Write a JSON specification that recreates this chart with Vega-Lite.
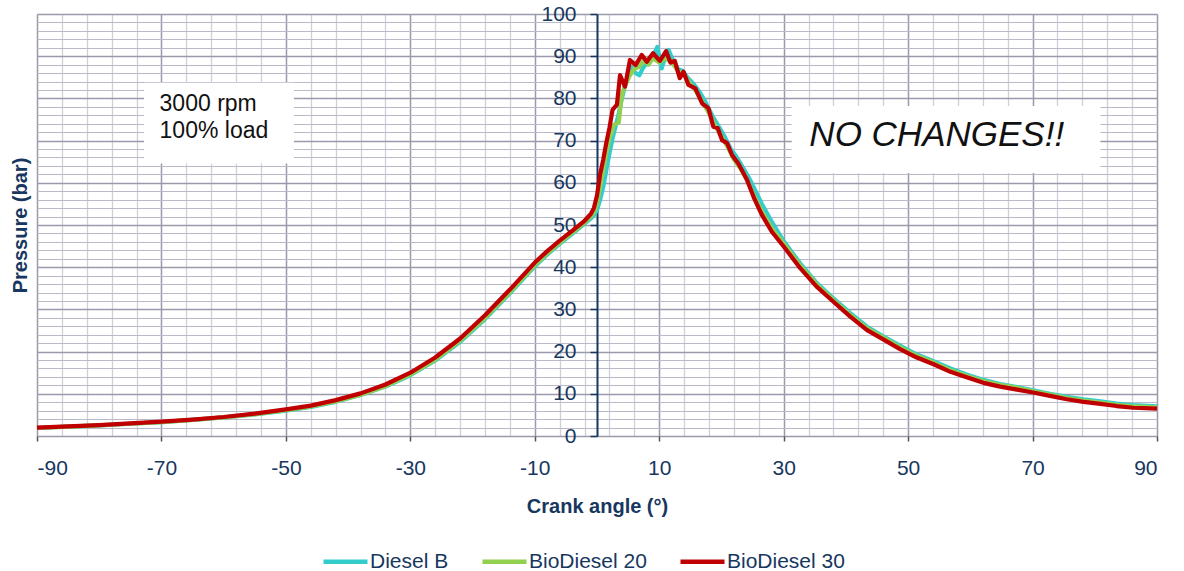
{
  "$schema": "https://vega.github.io/schema/vega-lite/v6.json",
  "width": 1120,
  "height": 422,
  "autosize": {"type": "none"},
  "padding": {"left": 37, "top": 14, "right": 27, "bottom": 135},
  "background": "white",
  "config": {
    "view": {"stroke": null},
    "font": "Liberation Sans",
    "axis": {"labelFont": "Liberation Sans", "titleFont": "Liberation Sans"}
  },
  "datasets": {
    "curves": [
      {"fuel":"Diesel B","angle":-90,"pressure":1.9},{"fuel":"Diesel B","angle":-85,"pressure":2.2},{"fuel":"Diesel B","angle":-80,"pressure":2.5},{"fuel":"Diesel B","angle":-75,"pressure":2.9},{"fuel":"Diesel B","angle":-70,"pressure":3.3},{"fuel":"Diesel B","angle":-65,"pressure":3.8},{"fuel":"Diesel B","angle":-60,"pressure":4.4},{"fuel":"Diesel B","angle":-55,"pressure":5.1},{"fuel":"Diesel B","angle":-50,"pressure":6.0},{"fuel":"Diesel B","angle":-46,"pressure":6.9},{"fuel":"Diesel B","angle":-42,"pressure":8.1},{"fuel":"Diesel B","angle":-38,"pressure":9.7},{"fuel":"Diesel B","angle":-34,"pressure":11.7},{"fuel":"Diesel B","angle":-30,"pressure":14.4},{"fuel":"Diesel B","angle":-26,"pressure":17.9},{"fuel":"Diesel B","angle":-22,"pressure":22.3},{"fuel":"Diesel B","angle":-18,"pressure":27.7},{"fuel":"Diesel B","angle":-14,"pressure":33.8},{"fuel":"Diesel B","angle":-10,"pressure":40.2},{"fuel":"Diesel B","angle":-8,"pressure":43.0},{"fuel":"Diesel B","angle":-6,"pressure":45.5},{"fuel":"Diesel B","angle":-4,"pressure":47.9},{"fuel":"Diesel B","angle":-3,"pressure":49.1},{"fuel":"Diesel B","angle":-2,"pressure":50.3},{"fuel":"Diesel B","angle":-1,"pressure":51.5},{"fuel":"Diesel B","angle":-0.5,"pressure":52.3},{"fuel":"Diesel B","angle":0,"pressure":53.5},{"fuel":"Diesel B","angle":0.5,"pressure":56.0},{"fuel":"Diesel B","angle":1,"pressure":59.0},{"fuel":"Diesel B","angle":1.5,"pressure":63.0},{"fuel":"Diesel B","angle":2,"pressure":67.0},{"fuel":"Diesel B","angle":2.5,"pressure":70.5},{"fuel":"Diesel B","angle":3,"pressure":73.5},{"fuel":"Diesel B","angle":3.5,"pressure":76.5},{"fuel":"Diesel B","angle":4,"pressure":80.0},{"fuel":"Diesel B","angle":4.5,"pressure":83.0},{"fuel":"Diesel B","angle":5,"pressure":85.0},{"fuel":"Diesel B","angle":5.5,"pressure":87.5},{"fuel":"Diesel B","angle":6.2,"pressure":86.0},{"fuel":"Diesel B","angle":6.8,"pressure":85.5},{"fuel":"Diesel B","angle":7.5,"pressure":87.5},{"fuel":"Diesel B","angle":8.3,"pressure":88.5},{"fuel":"Diesel B","angle":9,"pressure":90.0},{"fuel":"Diesel B","angle":9.7,"pressure":92.2},{"fuel":"Diesel B","angle":10.4,"pressure":87.1},{"fuel":"Diesel B","angle":11,"pressure":90.0},{"fuel":"Diesel B","angle":11.5,"pressure":91.5},{"fuel":"Diesel B","angle":12.2,"pressure":89.0},{"fuel":"Diesel B","angle":13,"pressure":87.0},{"fuel":"Diesel B","angle":13.8,"pressure":86.5},{"fuel":"Diesel B","angle":14.5,"pressure":85.0},{"fuel":"Diesel B","angle":15.5,"pressure":83.5},{"fuel":"Diesel B","angle":16.5,"pressure":81.5},{"fuel":"Diesel B","angle":17.5,"pressure":79.0},{"fuel":"Diesel B","angle":18.5,"pressure":76.0},{"fuel":"Diesel B","angle":19.5,"pressure":73.5},{"fuel":"Diesel B","angle":20.5,"pressure":71.0},{"fuel":"Diesel B","angle":21.5,"pressure":68.0},{"fuel":"Diesel B","angle":22.5,"pressure":66.0},{"fuel":"Diesel B","angle":23.5,"pressure":63.5},{"fuel":"Diesel B","angle":24.5,"pressure":61.0},{"fuel":"Diesel B","angle":25.5,"pressure":58.0},{"fuel":"Diesel B","angle":26.5,"pressure":55.0},{"fuel":"Diesel B","angle":28,"pressure":51.0},{"fuel":"Diesel B","angle":30,"pressure":46.2},{"fuel":"Diesel B","angle":32.7,"pressure":40.8},{"fuel":"Diesel B","angle":35.3,"pressure":36.3},{"fuel":"Diesel B","angle":38,"pressure":32.6},{"fuel":"Diesel B","angle":40.7,"pressure":29.1},{"fuel":"Diesel B","angle":43.4,"pressure":25.9},{"fuel":"Diesel B","angle":46,"pressure":23.6},{"fuel":"Diesel B","angle":48.7,"pressure":21.4},{"fuel":"Diesel B","angle":51.4,"pressure":19.3},{"fuel":"Diesel B","angle":54.1,"pressure":17.7},{"fuel":"Diesel B","angle":56.8,"pressure":16.0},{"fuel":"Diesel B","angle":59.4,"pressure":14.6},{"fuel":"Diesel B","angle":62.1,"pressure":13.3},{"fuel":"Diesel B","angle":64.8,"pressure":12.3},{"fuel":"Diesel B","angle":67.5,"pressure":11.6},{"fuel":"Diesel B","angle":70.1,"pressure":10.8},{"fuel":"Diesel B","angle":72.8,"pressure":10.0},{"fuel":"Diesel B","angle":75.5,"pressure":9.3},{"fuel":"Diesel B","angle":78.2,"pressure":8.7},{"fuel":"Diesel B","angle":80.9,"pressure":8.2},{"fuel":"Diesel B","angle":83.5,"pressure":7.7},{"fuel":"Diesel B","angle":86.2,"pressure":7.3},{"fuel":"Diesel B","angle":90,"pressure":7.0},

      {"fuel":"BioDiesel 20","angle":-90,"pressure":1.9},{"fuel":"BioDiesel 20","angle":-85,"pressure":2.2},{"fuel":"BioDiesel 20","angle":-80,"pressure":2.5},{"fuel":"BioDiesel 20","angle":-75,"pressure":2.9},{"fuel":"BioDiesel 20","angle":-70,"pressure":3.3},{"fuel":"BioDiesel 20","angle":-65,"pressure":3.8},{"fuel":"BioDiesel 20","angle":-60,"pressure":4.4},{"fuel":"BioDiesel 20","angle":-55,"pressure":5.2},{"fuel":"BioDiesel 20","angle":-50,"pressure":6.1},{"fuel":"BioDiesel 20","angle":-46,"pressure":7.0},{"fuel":"BioDiesel 20","angle":-42,"pressure":8.2},{"fuel":"BioDiesel 20","angle":-38,"pressure":9.8},{"fuel":"BioDiesel 20","angle":-34,"pressure":11.8},{"fuel":"BioDiesel 20","angle":-30,"pressure":14.6},{"fuel":"BioDiesel 20","angle":-26,"pressure":18.1},{"fuel":"BioDiesel 20","angle":-22,"pressure":22.6},{"fuel":"BioDiesel 20","angle":-18,"pressure":28.0},{"fuel":"BioDiesel 20","angle":-14,"pressure":34.1},{"fuel":"BioDiesel 20","angle":-10,"pressure":40.5},{"fuel":"BioDiesel 20","angle":-8,"pressure":43.3},{"fuel":"BioDiesel 20","angle":-6,"pressure":45.8},{"fuel":"BioDiesel 20","angle":-4,"pressure":48.2},{"fuel":"BioDiesel 20","angle":-3,"pressure":49.4},{"fuel":"BioDiesel 20","angle":-2,"pressure":50.6},{"fuel":"BioDiesel 20","angle":-1,"pressure":52.0},{"fuel":"BioDiesel 20","angle":-0.5,"pressure":53.0},{"fuel":"BioDiesel 20","angle":0,"pressure":55.0},{"fuel":"BioDiesel 20","angle":0.5,"pressure":59.0},{"fuel":"BioDiesel 20","angle":1,"pressure":63.0},{"fuel":"BioDiesel 20","angle":1.5,"pressure":67.0},{"fuel":"BioDiesel 20","angle":2,"pressure":70.5},{"fuel":"BioDiesel 20","angle":2.7,"pressure":73.7},{"fuel":"BioDiesel 20","angle":3.5,"pressure":74.3},{"fuel":"BioDiesel 20","angle":4,"pressure":81.0},{"fuel":"BioDiesel 20","angle":4.5,"pressure":83.0},{"fuel":"BioDiesel 20","angle":5.3,"pressure":85.5},{"fuel":"BioDiesel 20","angle":6,"pressure":87.0},{"fuel":"BioDiesel 20","angle":6.8,"pressure":87.5},{"fuel":"BioDiesel 20","angle":7.5,"pressure":89.0},{"fuel":"BioDiesel 20","angle":8.3,"pressure":88.0},{"fuel":"BioDiesel 20","angle":9,"pressure":89.5},{"fuel":"BioDiesel 20","angle":10,"pressure":88.5},{"fuel":"BioDiesel 20","angle":10.8,"pressure":89.5},{"fuel":"BioDiesel 20","angle":11.5,"pressure":89.0},{"fuel":"BioDiesel 20","angle":12.3,"pressure":88.0},{"fuel":"BioDiesel 20","angle":13,"pressure":86.5},{"fuel":"BioDiesel 20","angle":14,"pressure":85.5},{"fuel":"BioDiesel 20","angle":15,"pressure":83.5},{"fuel":"BioDiesel 20","angle":16,"pressure":81.5},{"fuel":"BioDiesel 20","angle":17,"pressure":79.0},{"fuel":"BioDiesel 20","angle":18,"pressure":76.5},{"fuel":"BioDiesel 20","angle":19,"pressure":73.5},{"fuel":"BioDiesel 20","angle":20,"pressure":71.0},{"fuel":"BioDiesel 20","angle":21,"pressure":68.5},{"fuel":"BioDiesel 20","angle":22,"pressure":65.5},{"fuel":"BioDiesel 20","angle":23,"pressure":63.5},{"fuel":"BioDiesel 20","angle":24,"pressure":61.0},{"fuel":"BioDiesel 20","angle":25.2,"pressure":57.0},{"fuel":"BioDiesel 20","angle":26.5,"pressure":53.2},{"fuel":"BioDiesel 20","angle":28.1,"pressure":49.2},{"fuel":"BioDiesel 20","angle":30,"pressure":45.6},{"fuel":"BioDiesel 20","angle":32.7,"pressure":40.3},{"fuel":"BioDiesel 20","angle":35.3,"pressure":35.9},{"fuel":"BioDiesel 20","angle":38,"pressure":32.2},{"fuel":"BioDiesel 20","angle":40.7,"pressure":28.7},{"fuel":"BioDiesel 20","angle":43.4,"pressure":25.5},{"fuel":"BioDiesel 20","angle":46,"pressure":23.3},{"fuel":"BioDiesel 20","angle":48.7,"pressure":21.0},{"fuel":"BioDiesel 20","angle":51.4,"pressure":19.0},{"fuel":"BioDiesel 20","angle":54.1,"pressure":17.4},{"fuel":"BioDiesel 20","angle":56.8,"pressure":15.6},{"fuel":"BioDiesel 20","angle":59.4,"pressure":14.3},{"fuel":"BioDiesel 20","angle":62.1,"pressure":13.0},{"fuel":"BioDiesel 20","angle":64.8,"pressure":12.1},{"fuel":"BioDiesel 20","angle":67.5,"pressure":11.4},{"fuel":"BioDiesel 20","angle":70.1,"pressure":10.6},{"fuel":"BioDiesel 20","angle":72.8,"pressure":9.8},{"fuel":"BioDiesel 20","angle":75.5,"pressure":9.0},{"fuel":"BioDiesel 20","angle":78.2,"pressure":8.4},{"fuel":"BioDiesel 20","angle":80.9,"pressure":7.9},{"fuel":"BioDiesel 20","angle":83.5,"pressure":7.4},{"fuel":"BioDiesel 20","angle":86.2,"pressure":7.0},{"fuel":"BioDiesel 20","angle":90,"pressure":6.8},

      {"fuel":"BioDiesel 30","angle":-90,"pressure":2.0},{"fuel":"BioDiesel 30","angle":-85,"pressure":2.3},{"fuel":"BioDiesel 30","angle":-80,"pressure":2.6},{"fuel":"BioDiesel 30","angle":-75,"pressure":3.0},{"fuel":"BioDiesel 30","angle":-70,"pressure":3.4},{"fuel":"BioDiesel 30","angle":-65,"pressure":3.9},{"fuel":"BioDiesel 30","angle":-60,"pressure":4.5},{"fuel":"BioDiesel 30","angle":-55,"pressure":5.3},{"fuel":"BioDiesel 30","angle":-50,"pressure":6.3},{"fuel":"BioDiesel 30","angle":-46,"pressure":7.2},{"fuel":"BioDiesel 30","angle":-42,"pressure":8.5},{"fuel":"BioDiesel 30","angle":-38,"pressure":10.1},{"fuel":"BioDiesel 30","angle":-34,"pressure":12.2},{"fuel":"BioDiesel 30","angle":-30,"pressure":15.0},{"fuel":"BioDiesel 30","angle":-26,"pressure":18.6},{"fuel":"BioDiesel 30","angle":-22,"pressure":23.1},{"fuel":"BioDiesel 30","angle":-18,"pressure":28.6},{"fuel":"BioDiesel 30","angle":-14,"pressure":34.7},{"fuel":"BioDiesel 30","angle":-10,"pressure":41.1},{"fuel":"BioDiesel 30","angle":-8,"pressure":43.8},{"fuel":"BioDiesel 30","angle":-6,"pressure":46.3},{"fuel":"BioDiesel 30","angle":-4,"pressure":48.6},{"fuel":"BioDiesel 30","angle":-3,"pressure":49.8},{"fuel":"BioDiesel 30","angle":-2,"pressure":51.0},{"fuel":"BioDiesel 30","angle":-1,"pressure":52.6},{"fuel":"BioDiesel 30","angle":-0.5,"pressure":54.0},{"fuel":"BioDiesel 30","angle":0,"pressure":57.0},{"fuel":"BioDiesel 30","angle":0.5,"pressure":62.0},{"fuel":"BioDiesel 30","angle":1,"pressure":65.5},{"fuel":"BioDiesel 30","angle":1.5,"pressure":69.5},{"fuel":"BioDiesel 30","angle":2,"pressure":73.0},{"fuel":"BioDiesel 30","angle":2.5,"pressure":77.3},{"fuel":"BioDiesel 30","angle":3.2,"pressure":78.5},{"fuel":"BioDiesel 30","angle":3.7,"pressure":85.5},{"fuel":"BioDiesel 30","angle":4.5,"pressure":82.8},{"fuel":"BioDiesel 30","angle":5.3,"pressure":89.1},{"fuel":"BioDiesel 30","angle":6.2,"pressure":87.9},{"fuel":"BioDiesel 30","angle":7.2,"pressure":90.3},{"fuel":"BioDiesel 30","angle":8.0,"pressure":88.7},{"fuel":"BioDiesel 30","angle":9.0,"pressure":90.7},{"fuel":"BioDiesel 30","angle":10.1,"pressure":88.9},{"fuel":"BioDiesel 30","angle":11.1,"pressure":91.2},{"fuel":"BioDiesel 30","angle":11.8,"pressure":88.5},{"fuel":"BioDiesel 30","angle":12.5,"pressure":88.9},{"fuel":"BioDiesel 30","angle":13.3,"pressure":84.8},{"fuel":"BioDiesel 30","angle":13.9,"pressure":86.3},{"fuel":"BioDiesel 30","angle":14.7,"pressure":83.2},{"fuel":"BioDiesel 30","angle":15.8,"pressure":82.4},{"fuel":"BioDiesel 30","angle":16.9,"pressure":78.8},{"fuel":"BioDiesel 30","angle":17.9,"pressure":77.7},{"fuel":"BioDiesel 30","angle":18.7,"pressure":73.3},{"fuel":"BioDiesel 30","angle":19.4,"pressure":73.0},{"fuel":"BioDiesel 30","angle":20.1,"pressure":70.1},{"fuel":"BioDiesel 30","angle":20.9,"pressure":69.4},{"fuel":"BioDiesel 30","angle":21.7,"pressure":66.6},{"fuel":"BioDiesel 30","angle":22.7,"pressure":64.6},{"fuel":"BioDiesel 30","angle":24.1,"pressure":60.7},{"fuel":"BioDiesel 30","angle":25.2,"pressure":56.5},{"fuel":"BioDiesel 30","angle":26.5,"pressure":52.4},{"fuel":"BioDiesel 30","angle":28.1,"pressure":48.4},{"fuel":"BioDiesel 30","angle":30,"pressure":44.9},{"fuel":"BioDiesel 30","angle":32.7,"pressure":39.7},{"fuel":"BioDiesel 30","angle":35.3,"pressure":35.4},{"fuel":"BioDiesel 30","angle":38,"pressure":31.8},{"fuel":"BioDiesel 30","angle":40.7,"pressure":28.3},{"fuel":"BioDiesel 30","angle":43.4,"pressure":25.1},{"fuel":"BioDiesel 30","angle":46,"pressure":22.9},{"fuel":"BioDiesel 30","angle":48.7,"pressure":20.6},{"fuel":"BioDiesel 30","angle":51.4,"pressure":18.6},{"fuel":"BioDiesel 30","angle":54.1,"pressure":17.0},{"fuel":"BioDiesel 30","angle":56.8,"pressure":15.2},{"fuel":"BioDiesel 30","angle":59.4,"pressure":13.9},{"fuel":"BioDiesel 30","angle":62.1,"pressure":12.6},{"fuel":"BioDiesel 30","angle":64.8,"pressure":11.7},{"fuel":"BioDiesel 30","angle":67.5,"pressure":11.0},{"fuel":"BioDiesel 30","angle":70.1,"pressure":10.3},{"fuel":"BioDiesel 30","angle":72.8,"pressure":9.5},{"fuel":"BioDiesel 30","angle":75.5,"pressure":8.7},{"fuel":"BioDiesel 30","angle":78.2,"pressure":8.1},{"fuel":"BioDiesel 30","angle":80.9,"pressure":7.6},{"fuel":"BioDiesel 30","angle":83.5,"pressure":7.1},{"fuel":"BioDiesel 30","angle":86.2,"pressure":6.7},{"fuel":"BioDiesel 30","angle":90,"pressure":6.5}
    ],
    "boxes": [
      {"x1": -72.8, "x2": -48.7, "y1": 64.6, "y2": 83.7},
      {"x1": 31.3, "x2": 80.9, "y1": 62.3, "y2": 78.2}
    ],
    "smallNotes": [
      {"x": -70.3, "y": 77.0, "label": "3000 rpm"},
      {"x": -70.3, "y": 70.5, "label": "100% load"}
    ],
    "bigNotes": [
      {"x": 54.6, "y": 68.7, "label": "NO CHANGES!!"}
    ]
  },
  "layer": [
    {
      "data": {"name": "curves"},
      "mark": {"type": "point", "opacity": 0},
      "encoding": {
        "x": {"field": "angle", "type": "quantitative",
          "scale": {"domain": [-90, 90], "nice": false, "zero": false},
          "axis": {"orient": "top", "title": null, "labels": false, "ticks": false, "domain": false,
            "grid": true, "gridColor": "#D0D0DB", "gridWidth": 1.3,
            "values": [-90,-86,-82,-78,-74,-70,-66,-62,-58,-54,-50,-46,-42,-38,-34,-30,-26,-22,-18,-14,-10,-6,-2,2,6,10,14,18,22,26,30,34,38,42,46,50,54,58,62,66,70,74,78,82,86,90]}},
        "y": {"field": "pressure", "type": "quantitative",
          "scale": {"domain": [0, 100], "nice": false, "zero": true},
          "axis": {"orient": "right", "title": null, "labels": false, "ticks": false, "domain": false,
            "grid": true, "gridColor": "#B9B9C8", "gridWidth": 1.2,
            "values": [0,2,4,6,8,10,12,14,16,18,20,22,24,26,28,30,32,34,36,38,40,42,44,46,48,50,52,54,56,58,60,62,64,66,68,70,72,74,76,78,80,82,84,86,88,90,92,94,96,98,100]}}
      }
    },
    {
      "mark": {"type": "rule", "color": "#84849A", "strokeWidth": 2},
      "encoding": {"y": {"datum": 50, "type": "quantitative", "axis": null}}
    },
    {
      "mark": {"type": "rule", "color": "#1F3F6F", "strokeWidth": 2},
      "encoding": {"y": {"datum": 100, "type": "quantitative", "axis": null}}
    },
    {
      "mark": {"type": "rule", "color": "#1F3F6F", "strokeWidth": 2},
      "encoding": {"x": {"datum": -90, "type": "quantitative", "axis": null}}
    },
    {
      "mark": {"type": "rule", "color": "#7D8EAC", "strokeWidth": 2},
      "encoding": {"x": {"datum": 90, "type": "quantitative", "axis": null}}
    },
    {
      "data": {"name": "boxes"},
      "mark": {"type": "rect", "fill": "white", "stroke": null},
      "encoding": {
        "x": {"field": "x1", "type": "quantitative", "axis": null},
        "x2": {"field": "x2"},
        "y": {"field": "y1", "type": "quantitative", "axis": null},
        "y2": {"field": "y2"}
      }
    },
    {
      "data": {"name": "smallNotes"},
      "mark": {"type": "text", "align": "left", "baseline": "alphabetic", "fontSize": 23, "font": "Liberation Sans", "color": "#111111"},
      "encoding": {
        "x": {"field": "x", "type": "quantitative", "axis": null},
        "y": {"field": "y", "type": "quantitative", "axis": null},
        "text": {"field": "label"}
      }
    },
    {
      "data": {"name": "bigNotes"},
      "mark": {"type": "text", "align": "center", "baseline": "alphabetic", "fontSize": 35, "fontStyle": "italic", "font": "Liberation Sans", "color": "#111111"},
      "encoding": {
        "x": {"field": "x", "type": "quantitative", "axis": null},
        "y": {"field": "y", "type": "quantitative", "axis": null},
        "text": {"field": "label"}
      }
    },
    {
      "data": {"name": "curves"},
      "mark": {"type": "line", "strokeWidth": 4.2, "strokeJoin": "round"},
      "encoding": {
        "x": {"field": "angle", "type": "quantitative",
          "axis": {"orient": "bottom", "title": "Crank angle (°)", "values": [-90,-70,-50,-30,-10,10,30,50,70,90],
            "labelExpr": "'' + datum.value",
            "grid": true, "gridColor": "#9A9AAC", "gridWidth": 1.4,
            "domain": false, "ticks": true, "tickColor": "#555555", "tickSize": 5, "tickWidth": 1.5,
            "labelFontSize": 21, "labelColor": "#17375E", "labelBaseline": "alphabetic", "labelPadding": 33,
            "titleFontSize": 20, "titleFontWeight": "bold", "titleColor": "#17375E",
            "titleBaseline": "alphabetic", "titleY": 76, "titleX": 560}},
        "y": {"field": "pressure", "type": "quantitative",
          "axis": {"orient": "left", "offset": -560, "title": "Pressure (bar)", "values": [0,10,20,30,40,50,60,70,80,90,100],
            "grid": true, "gridColor": "#9A9AAC", "gridWidth": 1.4,
            "domain": true, "domainColor": "#17375E", "domainWidth": 2,
            "ticks": true, "tickColor": "#17375E", "tickSize": 7, "tickWidth": 1.5,
            "labelFontSize": 21, "labelColor": "#17375E", "labelPadding": 14, "labelBaseline": "middle",
            "titleFontSize": 20, "titleFontWeight": "bold", "titleColor": "#17375E",
            "titleAngle": 270, "titleAlign": "center", "titleBaseline": "middle", "titleX": -577, "titleY": 211}},
        "color": {"field": "fuel", "type": "nominal",
          "scale": {"domain": ["Diesel B", "BioDiesel 20", "BioDiesel 30"], "range": ["#33CCCC", "#92D050", "#C00000"]},
          "legend": {"orient": "none", "direction": "horizontal", "legendX": 284, "legendY": 523, "title": null,
            "symbolType": "stroke", "symbolSize": 1936, "symbolStrokeWidth": 4.5,
            "labelFontSize": 21, "labelColor": "#17375E", "labelFont": "Liberation Sans", "labelOffset": 0,
            "columnPadding": 24, "padding": 0}}
      }
    }
  ],
  "resolve": {"axis": {"x": "independent", "y": "independent"}}
}
